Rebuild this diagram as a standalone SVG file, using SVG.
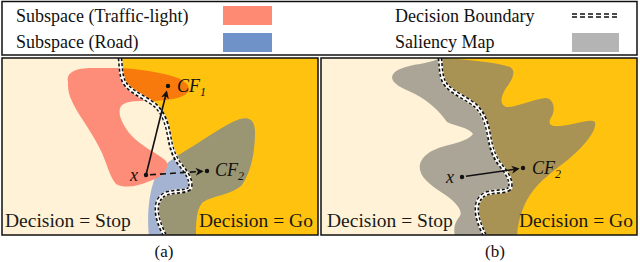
<svg xmlns="http://www.w3.org/2000/svg" width="640" height="262" viewBox="0 0 640 262">
<style>
text{font-family:'Liberation Serif','DejaVu Serif','Times New Roman',serif}
.lg{font-size:18px;fill:#111}
.dec{font-size:19.5px;fill:#1a1a1a}
.cap{font-size:17px;fill:#111}
.m{font-style:italic;font-size:18px;fill:#111}
.frame{fill:none;stroke:#111;stroke-width:1.5}
.bw{fill:none;stroke:#f4efe4;stroke-width:4.6}
.bd{fill:none;stroke:#111;stroke-width:4.6;stroke-dasharray:3 2.2}
.bc{fill:none;stroke:#fff;stroke-width:1.5}
.dot{fill:#111}
.arr{fill:none;stroke:#111;stroke-width:1.6}
</style>
<defs>
<marker id="ah" viewBox="0 0 10 10" refX="8" refY="5" markerWidth="8" markerHeight="8" orient="auto" markerUnits="userSpaceOnUse">
<path d="M0,0 L10,5 L0,10 L3,5 Z" fill="#111"/>
</marker>
<path id="bnd" d="M120,58 C121,70 121,80 127,86 C133,93 148,99 156,106 C164,114 167,124 169,135 C171,148 174,158 182,167 C187,173 192,181 190,188 C188,192 176,191 168,193 C158,196 156,205 157,213 C158,222 162,230 165,236"/>
<clipPath id="gold"><path d="M120,58 C121,70 121,80 127,86 C133,93 148,99 156,106 C164,114 167,124 169,135 C171,148 174,158 182,167 C187,173 192,181 190,188 C188,192 176,191 168,193 C158,196 156,205 157,213 C158,222 162,230 165,236 L330,236 L330,50 Z"/></clipPath>
<clipPath id="cream"><path d="M120,58 C121,70 121,80 127,86 C133,93 148,99 156,106 C164,114 167,124 169,135 C171,148 174,158 182,167 C187,173 192,181 190,188 C188,192 176,191 168,193 C158,196 156,205 157,213 C158,222 162,230 165,236 L-10,236 L-10,50 Z"/></clipPath>
<clipPath id="pa"><rect x="2" y="58" width="316" height="177"/></clipPath>
<clipPath id="pb"><rect x="1" y="58" width="316" height="177"/></clipPath>
<path id="red" d="M68,82 C66,72 76,68 92,68 L120,68 C140,69 165,73 178,78 C187,82 191,88 188,92 C184,98 170,100 155,101 C140,101 128,100 122,105 C117,110 120,120 127,130 C137,145 158,153 166,161 C170,168 163,177 150,181 C138,186 125,189 116,184 C109,176 107,162 99,147 C89,127 76,112 71,99 C68,92 68,87 68,82 Z"/>
<path id="blue" d="M149,236 C147,220 148,195 155,178 C161,166 172,159 185,151 C205,139 225,124 240,119 C250,116 255,121 255,132 C255,150 252,170 242,185 C232,195 210,196 202,203 C196,210 196,225 196,236 Z"/>
<path id="sal" d="M135,236 C133,228 135,222 140,216 C143,210 135,202 127,196 C115,188 102,180 100,170 C98,158 110,150 125,146 C138,143 150,139 153,134 C150,128 135,126 127,122 C120,112 110,102 95,94 C82,88 72,84 72,77 C73,70 85,66 100,64 C110,62 117,60 120,58 L125,58 C150,60 175,62 190,67 C197,71 192,80 186,88 C181,96 179,104 186,107 C195,108 210,100 225,98 C233,98 236,108 232,116 C228,122 228,127 240,126 C255,125 270,118 275,122 C277,130 265,145 250,158 C235,170 220,180 210,195 C202,207 198,222 197,236 Z"/>
</defs>

<g id="legend">
<rect x="2" y="1.5" width="635" height="53.5" class="frame"/>
<text class="lg" x="16" y="22">Subspace (Traffic-light)</text>
<rect x="223" y="6" width="49" height="19" fill="#FF8A74"/>
<text class="lg" x="16" y="48">Subspace (Road)</text>
<rect x="223" y="33" width="49" height="19" fill="#6F93C8"/>
<text class="lg" x="395" y="22">Decision Boundary</text>
<g>
<line x1="572" y1="15.5" x2="619" y2="15.5" class="bd" style="stroke-dasharray:5 3"/>
<line x1="572" y1="15.5" x2="619" y2="15.5" class="bc"/>
</g>
<text class="lg" x="395" y="48">Saliency Map</text>
<rect x="572" y="33" width="47" height="19" fill="#B4B4B4"/>
</g>

<g id="panel-a">
<g clip-path="url(#pa)">
<rect x="2" y="58" width="316" height="177" fill="#FFF2D6"/>
<rect x="2" y="58" width="316" height="177" fill="#FFC30F" clip-path="url(#gold)"/>
<g clip-path="url(#cream)">
<use href="#blue" fill="#A3B3D1"/>
<use href="#red" fill="#FD8C78"/>
</g>
<g clip-path="url(#gold)">
<use href="#blue" fill="#9A9572"/>
<use href="#red" fill="#F87A0C"/>
</g>
<use href="#bnd" class="bw"/>
<use href="#bnd" class="bd"/>
<use href="#bnd" class="bc"/>
</g>
<rect x="2" y="58" width="316" height="177" class="frame"/>
<text class="dec" x="5" y="227">Decision = Stop</text>
<text class="dec" x="199" y="227">Decision = Go</text>
</g>

<g id="panel-b">
<g transform="translate(320,0)" clip-path="url(#pb)">
<rect x="1" y="58" width="316" height="177" fill="#FFF2D6"/>
<rect x="1" y="58" width="316" height="177" fill="#FFC30F" clip-path="url(#gold)"/>
<use href="#sal" fill="#ABA597" clip-path="url(#cream)"/>
<use href="#sal" fill="#A89355" clip-path="url(#gold)"/>
<use href="#bnd" class="bw"/>
<use href="#bnd" class="bd"/>
<use href="#bnd" class="bc"/>
</g>
<rect x="321" y="58" width="316" height="177" class="frame"/>
<text class="dec" x="327" y="227">Decision = Stop</text>
<text class="dec" x="519" y="227">Decision = Go</text>
</g>

<g id="node-x-a"><circle cx="146" cy="175" r="2.2" class="dot"/><text class="m" x="130" y="181" font-size="20">x</text></g>
<g id="node-cf1"><circle cx="168" cy="86" r="2.2" class="dot"/><text class="m" x="177" y="92">CF<tspan font-size="12" dy="4">1</tspan></text></g>
<g id="node-cf2-a"><circle cx="207" cy="171" r="2.2" class="dot"/><text class="m" x="215" y="176">CF<tspan font-size="12" dy="4">2</tspan></text></g>
<g id="node-x-b"><circle cx="462" cy="177" r="2.2" class="dot"/><text class="m" x="446" y="183" font-size="20">x</text></g>
<g id="node-cf2-b"><circle cx="523" cy="168" r="2.2" class="dot"/><text class="m" x="532" y="174">CF<tspan font-size="12" dy="4">2</tspan></text></g>

<g id="connectors">
<line x1="146" y1="175" x2="166.5" y2="92" class="arr" marker-end="url(#ah)"/>
<line x1="150" y1="174.8" x2="202" y2="171.3" class="arr" stroke-dasharray="6 4" marker-end="url(#ah)"/>
<line x1="466" y1="176.3" x2="518" y2="168.8" class="arr" marker-end="url(#ah)"/>
</g>

<text class="cap" x="164" y="257" text-anchor="middle">(a)</text>
<text class="cap" x="495" y="257" text-anchor="middle">(b)</text>
</svg>
